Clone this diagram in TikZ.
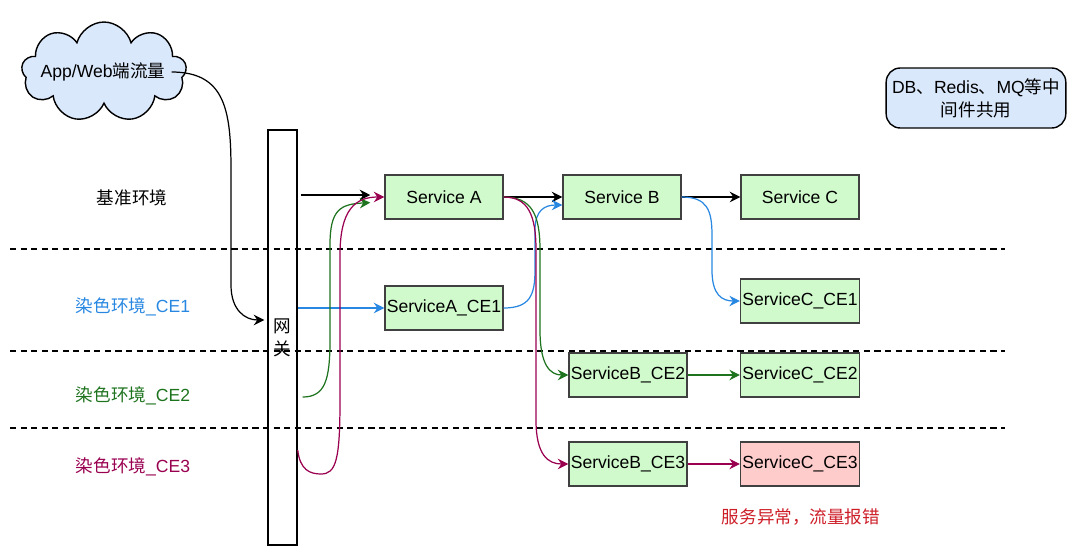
\documentclass[tikz,border=0pt]{standalone}
\usepackage{fontspec}
\setmainfont{Liberation Sans}
\newfontfamily\cjk{Noto Sans CJK SC}
\usetikzlibrary{shapes.symbols,arrows.meta,positioning,calc}

\definecolor{svcfill}{RGB}{208,250,204}
\definecolor{errfill}{RGB}{255,204,204}
\definecolor{dbfill}{RGB}{218,232,252}
\definecolor{ceblue}{RGB}{40,135,225}
\definecolor{cegreen}{RGB}{30,115,30}
\definecolor{cepurple}{RGB}{153,0,80}
\definecolor{errred}{RGB}{205,30,40}

\tikzset{
  svc/.style={draw=black!75, fill=svcfill, line width=0.8pt, minimum width=2.36cm, minimum height=0.88cm, inner sep=1pt, font=\fontsize{10}{12}\selectfont},
  envlabel/.style={font=\fontsize{10}{12}\selectfont},
  flow/.style={line width=0.7pt, -{Stealth[length=6pt,width=6pt,inset=2pt]}},
  sep/.style={dashed, dash pattern=on 3.5pt off 2.5pt, line width=0.7pt}
}

\begin{document}
\begin{tikzpicture}[x=0.02cm,y=-0.02cm]
\useasboundingbox (0,0) rectangle (1080,559);

% separators
\draw[sep] (10,249) -- (1005,249);
\draw[sep] (10,351) -- (1005,351);
\draw[sep] (10,428) -- (1005,428);

% traffic source and gateway
\node[cloud, cloud puffs=9, aspect=1.7, draw, line width=0.8pt, fill=dbfill, minimum width=3.3cm, minimum height=2cm, inner sep=0pt] (app) at (104,72) {};
\node[font=\fontsize{10}{12}\selectfont] (applbl) at (103,72) {App/Web{\cjk 端流量}};
\node[draw, line width=0.8pt, minimum width=0.58cm, minimum height=8.3cm, inner sep=0pt, align=center, font=\cjk\fontsize{10}{13}\selectfont] (gw) at (282.5,337.5) {网\\关};
\node[draw, line width=0.8pt, fill=dbfill, rounded corners=8pt, minimum width=3.48cm, minimum height=1.2cm, align=center, font=\fontsize{10}{13}\selectfont] (db) at (976,98) {DB{\cjk 、}Redis{\cjk 、}MQ{\cjk 等中}\\{\cjk 间件共用}};

% environment labels
\node[envlabel] (base) at (132,198) {\cjk 基准环境};
\node[envlabel, text=ceblue] (ce1) at (133,307) {{\cjk 染色环境}\_CE1};
\node[envlabel, text=cegreen] (ce2) at (133,396) {{\cjk 染色环境}\_CE2};
\node[envlabel, text=cepurple] (ce3) at (133,467) {{\cjk 染色环境}\_CE3};

% services
\node[svc] (sa) at (444,197) {Service A};
\node[svc] (sb) at (622,197) {Service B};
\node[svc] (sc) at (800,197) {Service C};
\node[svc] (sa1) at (444,308) {ServiceA\_CE1};
\node[svc] (sc1) at (800,301) {ServiceC\_CE1};
\node[svc] (sb2) at (628,375) {ServiceB\_CE2};
\node[svc] (sc2) at (800,375) {ServiceC\_CE2};
\node[svc] (sb3) at (628,464) {ServiceB\_CE3};
\node[svc, fill=errfill] (sc3) at (800,464) {ServiceC\_CE3};
\node[font=\cjk\fontsize{10}{12}\selectfont, text=errred] (err) at (801,517) {服务异常，流量报错};

% base traffic
\draw[flow] (applbl.east) .. controls (225,72) and (231,110) .. (231,170) -- (231,285) .. controls (231,310) and (245,320) .. ($(gw.west)+(-3,-17.5)$);
\draw[flow, shorten >=8pt] ($(gw.east)+(3,-142.5)$) -- ($(sa.west)+(0,-2)$);
\draw[flow] (sa.east) -- (sb.west);
\draw[flow] (sb.east) -- (sc.west);

% CE1
\draw[flow, ceblue] ($(gw.east)+(0,-29.5)$) -- (sa1.west);
\draw[flow, ceblue] (sa1.east) .. controls (530,308) and (535,295) .. (535,270) -- (535,230) .. controls (535,210) and (545,205) .. ($(sb.west)+(0,8)$);
\draw[flow, ceblue] (sb.east) .. controls (707,197) and (712,210) .. (712,235) -- (712,270) .. controls (712,295) and (722,301) .. (sc1.west);

% CE2
\draw[flow, cegreen, shorten >=8pt] ($(gw.east)+(5,59.5)$) .. controls (325,397) and (330,380) .. (330,340) -- (330,245) .. controls (330,210) and (340,204) .. ($(sa.west)+(0,5)$);
\draw[flow, cegreen] (sa.east) .. controls (532,197) and (540,215) .. (540,250) -- (540,330) .. controls (540,365) and (550,375) .. (sb2.west);
\draw[flow, cegreen] (sb2.east) -- (sc2.west);

% CE3
\draw[flow, cepurple] ($(gw.east)+(0,112.5)$) .. controls (300,470) and (310,474) .. (321,474) .. controls (336,474) and (340,460) .. (340,400) -- (340,255) .. controls (340,210) and (355,197) .. (sa.west);
\draw[flow, cepurple] (sa.east) .. controls (528,197) and (536,215) .. (536,250) -- (536,420) .. controls (536,455) and (548,464) .. (sb3.west);
\draw[flow, cepurple] (sb3.east) -- (sc3.west);
\end{tikzpicture}
\end{document}
